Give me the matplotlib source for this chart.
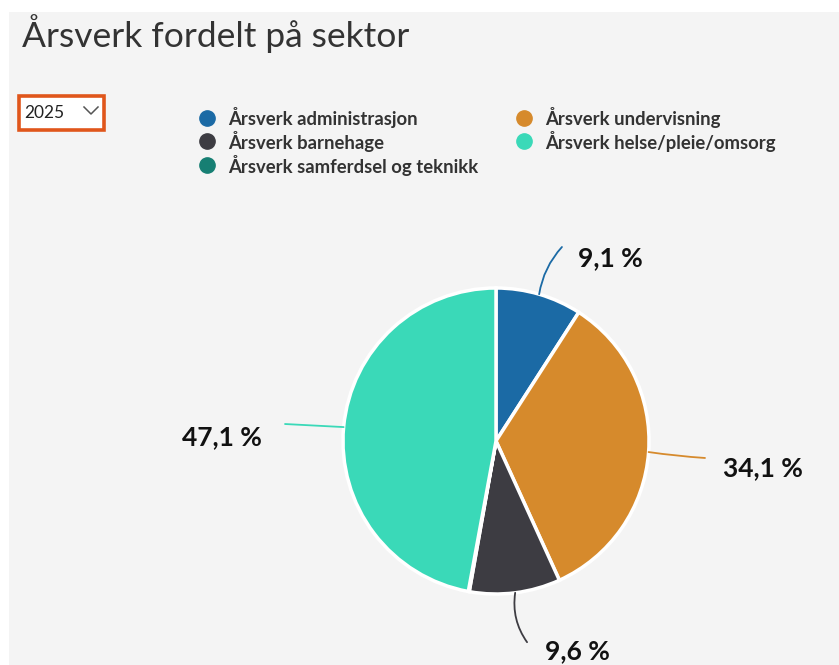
import matplotlib
matplotlib.use("Agg")
import matplotlib.pyplot as plt
from matplotlib.patches import Rectangle
from matplotlib.lines import Line2D
import numpy as np

W, H = 839, 665
DPI = 100

title = "Årsverk fordelt på sektor"
year = "2025"
categories = ["Årsverk administrasjon", "Årsverk undervisning", "Årsverk barnehage",
              "Årsverk samferdsel og teknikk", "Årsverk helse/pleie/omsorg"]
values = [9.1, 34.1, 9.6, 0.1, 47.1]
colors = ["#1b6aa5", "#d68a2c", "#3d3c42", "#167f73", "#3ad9b8"]
legend_order = [0, 2, 3, 1, 4]  # column-wise layout

plt.rcParams['font.family'] = ['Lato', 'DejaVu Sans']

fig = plt.figure(figsize=(W / DPI, H / DPI), dpi=DPI, facecolor="white")

def fx(px):
    return px / W

def fy(py):
    return 1 - py / H

# panel background
fig.patches.append(Rectangle((fx(9), 0), 1 - fx(9), fy(12), transform=fig.transFigure,
                             facecolor="#f4f4f4", edgecolor="none", zorder=-5))

fig.text(fx(22), fy(47), title, fontsize=25.5, color="#333333", ha="left", va="baseline")

# dropdown
fig.patches.append(Rectangle((fx(19), fy(130)), fx(104) - fx(19), fy(96) - fy(130),
                             transform=fig.transFigure, facecolor="white",
                             edgecolor="#e0561b", linewidth=2.6, zorder=2))
fig.text(fx(24), fy(113), year, fontsize=12.5, color="#222222", ha="left", va="center", zorder=3)
fig.add_artist(Line2D([fx(84), fx(91), fx(98)], [fy(107), fy(114), fy(107)],
                      transform=fig.transFigure, color="#555555", lw=1.1, zorder=3))

# legend
col_x = [207, 524]
row_y = [118, 141, 165]
positions = [(0, 0), (0, 1), (0, 2), (1, 0), (1, 1)]
for (c, r), idx in zip(positions, legend_order):
    x = col_x[c]
    y = row_y[r]
    fig.add_artist(Line2D([fx(x)], [fy(y)], transform=fig.transFigure, marker="o",
                          markersize=11, color=colors[idx], linestyle="none", zorder=3))
    fig.text(fx(x + 21), fy(y), categories[idx], fontsize=13.3, fontweight="bold",
             color="#333333", ha="left", va="center")

# pie
R = 153
cx, cy = 496, 441
ax = fig.add_axes([fx(cx - 2 * R), (H - cy - 2 * R) / H, 4 * R / W, 4 * R / H], zorder=1)
wedges, _ = ax.pie(values, colors=colors, startangle=90, counterclock=False, radius=1,
                   wedgeprops=dict(edgecolor="white", linewidth=2.5))
ax.set_xlim(-2, 2)
ax.set_ylim(-2, 2)
ax.set_aspect("equal")
ax.axis("off")
ax.patch.set_visible(False)

label_specs = {
    0: dict(end=(0.431, 1.268), text=(0.536, 1.196), ha="left", rad=-0.15),
    1: dict(end=(1.366, -0.111), text=(1.484, -0.176), ha="left", rad=0.02),
    2: dict(end=(0.203, -1.315), text=(0.32, -1.375), ha="left", rad=0.2),
    4: dict(end=(-1.379, 0.111), text=(-1.529, 0.026), ha="right", rad=0.0),
}
for i, w in enumerate(wedges):
    if i not in label_specs:
        continue
    spec = label_specs[i]
    mid = np.deg2rad((w.theta1 + w.theta2) / 2)
    start = (np.cos(mid), np.sin(mid))
    ax.annotate("", xy=spec["end"], xytext=start,
                arrowprops=dict(arrowstyle="-", color=colors[i], lw=1.3,
                                connectionstyle=f"arc3,rad={spec['rad']}",
                                shrinkA=0, shrinkB=0))
    ax.text(spec["text"][0], spec["text"][1], f"{values[i]:.1f} %".replace(".", ","),
            fontsize=19, fontweight="bold", color="#111111", ha=spec["ha"], va="center",
            clip_on=False)

fig.savefig("out.png", dpi=DPI, facecolor="white")
